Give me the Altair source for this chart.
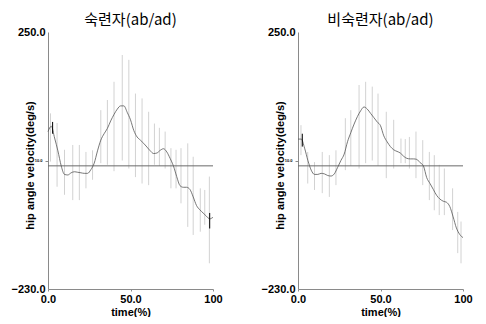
import altair as alt
import pandas as pd

# ---------------- data ----------------
curve_x = list(range(0, 101, 2))
left_mean = [64, 74, 52, 28, 0, -16, -17, -13, -11, -12, -13, -14, -14, -7, 5, 28, 48, 60, 70, 84,
             96, 106, 112, 112, 100, 86, 66, 54, 48, 42, 35, 28, 23, 24, 29, 32, 26, 14, 0, -20,
             -37, -40, -40, -44, -58, -74, -82, -88, -94, -99, -96]
right_mean = [50, 50, 33, 10, -8, -16, -16, -14, -15, -18, -19, -15, -3, 10, 22, 45, 62, 78, 92, 103,
              110, 106, 98, 90, 82, 75, 56, 45, 36, 30, 27, 24, 18, 14, 13, 13, 12, 6, 0, -22,
              -33, -44, -55, -62, -66, -68, -76, -95, -116, -128, -134]

left_bar_x = [1.5, 5.5, 10, 15, 19, 23, 27, 32, 36, 40, 45, 49, 53, 57, 61, 64.5, 67.5, 71, 74.5,
              77.6, 80.6, 84.7, 88, 92.3, 95, 97.8]
left_bar_lo = [8, -39, -54, -64, -64, -42, -26, 5, 2, -10, 10, -5, -21, -33, -36, 2, 0, -5, -42,
               -42, -70, -114, -129, -123, -110, -182]
left_bar_hi = [98, 80, 30, 39, 39, 26, 29, 104, 123, 157, 207, 198, 135, 126, 101, 79, 71, 64, 33,
               30, 33, 42, 17, -42, -45, -20]

right_bar_x = [1.8, 5.9, 10, 14.7, 19, 23, 28.7, 32, 37, 41, 45, 48.5, 53.5, 58, 62.4, 65, 67.5,
               71.5, 75.6, 79.6, 82.6, 85.6, 88.7, 93.7, 96.8, 98.8]
right_bar_lo = [20, -33, -45, -51, -58, -36, -8, 0, -5, 5, 10, 0, -23, -5, 5, 5, -5, -23, -36,
                -64, -83, -92, -92, -120, -163, -182]
right_bar_hi = [76, 26, 7, 26, 20, 29, 89, 104, 151, 157, 148, 135, 101, 86, 51, 50, 54, 64, 48,
                26, 20, 2, -5, -42, -86, -104]

left_mark_x = [2.8, 98]
left_mark_lo = [60, -117]
left_mark_hi = [82, -88]
right_mark_x = [2.6]
right_mark_lo = [36]
right_mark_hi = [60]

titles = ["숙련자(ab/ad)", "비숙련자(ab/ad)"]
y_title = "hip angle velocity(deg/s)"
x_title = "time(%)"
Y_MIN, Y_MAX = -230, 250

W, H = 165, 257
LBL_FONT = "Liberation Sans"


def panel(title, mean, bx, blo, bhi, mx, mlo, mhi):
    curve = pd.DataFrame({"t": curve_x, "v": mean})
    bars = pd.DataFrame({"t": bx, "lo": blo, "hi": bhi})
    marks = pd.DataFrame({"t": mx, "lo": mlo, "hi": mhi})

    xscale = alt.Scale(domain=[0, 100], nice=False, zero=False)
    yscale = alt.Scale(domain=[Y_MIN, Y_MAX], nice=False, zero=False)

    xaxis = alt.Axis(values=[0, 50, 100],
                     labelExpr="datum.value == 0 ? '0.0' : datum.value == 50 ? '50.0' : '100'",
                     title=x_title, grid=False, domainColor="#8a8a8a", tickColor="#8a8a8a",
                     tickSize=2, labelFont=LBL_FONT, labelFontWeight="bold", labelFontSize=11,
                     labelColor="black", labelPadding=2, labelFlush=False,
                     titleFont=LBL_FONT, titleFontWeight="bold", titleFontSize=11,
                     titleColor="black", titlePadding=2)
    yaxis = alt.Axis(values=[Y_MIN, 10, Y_MAX],
                     labelExpr="format(datum.value, '.1f')",
                     title=y_title, grid=False, domainColor="#8a8a8a", tickColor="#8a8a8a",
                     tickSize={"condition": {"test": "datum.value == 10", "value": 3}, "value": 0},
                     labelFontSize={"condition": {"test": "datum.value == 10", "value": 4}, "value": 11},
                     labelFont=LBL_FONT, labelFontWeight="bold", labelColor="black",
                     labelPadding=3, labelFlush=False,
                     titleFont=LBL_FONT, titleFontWeight="bold", titleFontSize=11,
                     titleColor="black", titleX=-18, titleY=133, titleAngle=270,
                     titleAlign="center", titleBaseline="middle")

    err = alt.Chart(bars).mark_rule(color="#d2d2d2", strokeWidth=1).encode(
        x=alt.X("t:Q", scale=xscale, axis=xaxis),
        y=alt.Y("lo:Q", scale=yscale, axis=yaxis),
        y2="hi:Q",
    )
    zero = alt.Chart(pd.DataFrame({"z": [0]})).mark_rule(color="#6a6a6a", strokeWidth=1).encode(
        y=alt.Y("z:Q", scale=yscale)
    )
    line = alt.Chart(curve).mark_line(color="#555555", strokeWidth=0.8, interpolate="monotone").encode(
        x=alt.X("t:Q", scale=xscale),
        y=alt.Y("v:Q", scale=yscale),
    )
    mk = alt.Chart(marks).mark_rule(color="black", strokeWidth=1).encode(
        x=alt.X("t:Q", scale=xscale),
        y=alt.Y("lo:Q", scale=yscale),
        y2="hi:Q",
    )
    return alt.layer(err, zero, line, mk).properties(
        width=W, height=H,
        title=alt.TitleParams(title, font="Noto Sans CJK KR", fontSize=15, fontWeight="normal",
                              color="black", anchor="middle", offset=-2, frame="group"),
    )


left = panel(titles[0], left_mean, left_bar_x, left_bar_lo, left_bar_hi,
             left_mark_x, left_mark_lo, left_mark_hi)
right = panel(titles[1], right_mean, right_bar_x, right_bar_lo, right_bar_hi,
              right_mark_x, right_mark_lo, right_mark_hi)

chart = alt.hconcat(left, right, spacing=85, bounds="flush").properties(
    padding={"left": 3, "top": 5, "right": 0, "bottom": 0},
    background="white",
).configure_view(strokeWidth=0, stroke="transparent")

chart.save("out.html", embed_options={"renderer": "svg", "actions": False})
